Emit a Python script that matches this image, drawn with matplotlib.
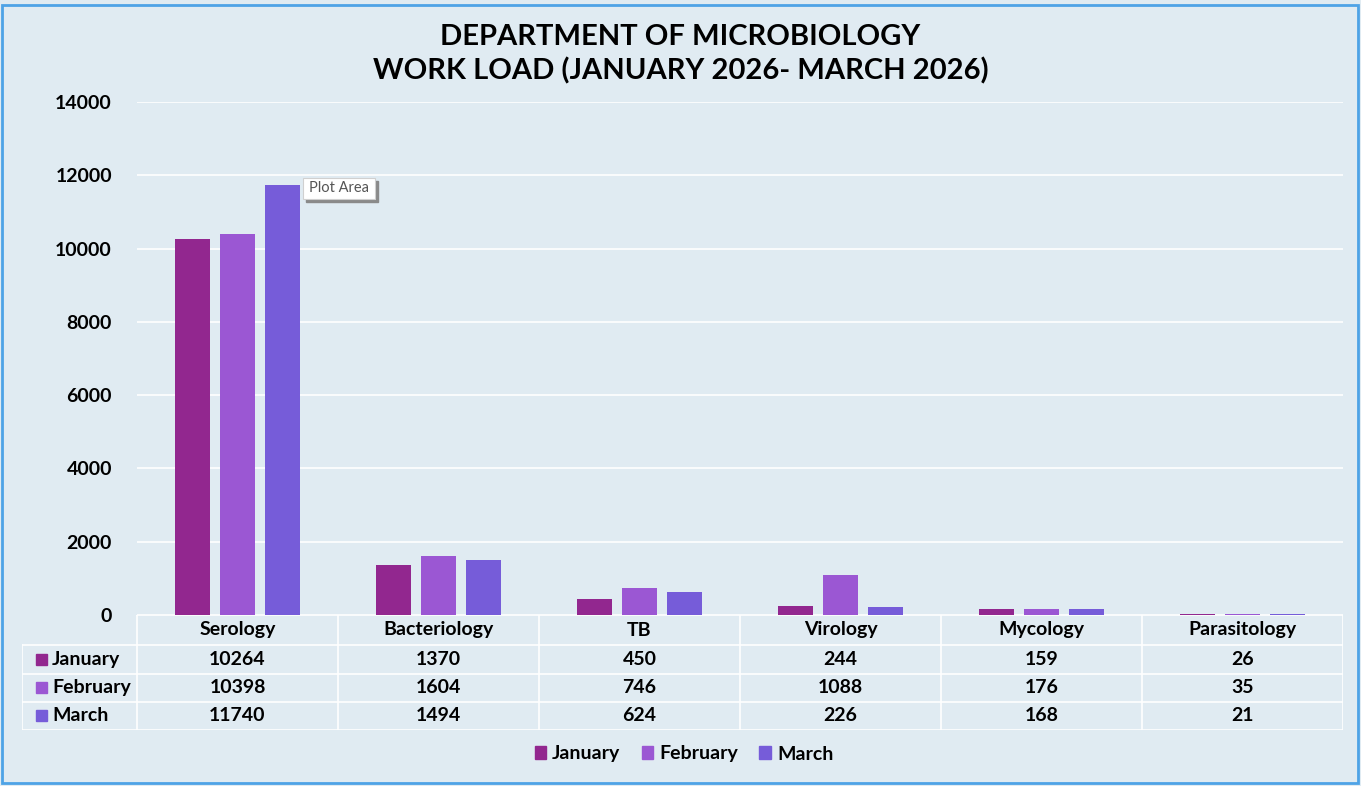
import matplotlib.pyplot as plt
import numpy as np
from matplotlib.patches import Rectangle

plt.rcParams['font.family'] = ['Lato', 'DejaVu Sans']

categories = ['Serology', 'Bacteriology', 'TB', 'Virology', 'Mycology', 'Parasitology']
months = ['January', 'February', 'March']
january = [10264, 1370, 450, 244, 159, 26]
february = [10398, 1604, 746, 1088, 176, 35]
march = [11740, 1494, 624, 226, 168, 21]
series = [january, february, march]
colors = ['#92278f', '#9b57d3', '#765cd9']

bg = '#e0ebf2'
W, H = 1361, 786
fig = plt.figure(figsize=(W / 100, H / 100), dpi=100, facecolor=bg)

# outer border
fig.patches.append(Rectangle((2 / W, 3 / H), 1356 / W, 778 / H, transform=fig.transFigure,
                             fill=False, edgecolor='#4ea3e6', linewidth=2))

def fx(px):
    return px / W

def fy(px):
    return 1 - px / H

left, right, top, bottom = 137, 1343, 102, 615
ax = fig.add_axes([fx(left), fy(bottom), fx(right - left), fy(top) - fy(bottom)])
ax.set_facecolor(bg)

x = np.arange(len(categories))
offsets = [-0.224, 0, 0.224]
for vals, off, c, m in zip(series, offsets, colors, months):
    ax.bar(x + off, vals, width=0.178, color=c, label=m, zorder=3)

ax.set_xlim(-0.5, 5.5)
ax.set_ylim(0, 14000)
ax.set_yticks(range(0, 14001, 2000))
ax.set_yticklabels([str(v) for v in range(0, 14001, 2000)], fontsize=14, fontweight='bold')
ax.set_xticks([])
ax.grid(axis='y', color='white', linewidth=1.2, zorder=0)
for s in ax.spines.values():
    s.set_visible(False)
ax.tick_params(axis='y', length=0, pad=18)

fig.text(0.5, fy(37), 'DEPARTMENT OF MICROBIOLOGY', ha='center', va='center',
         fontsize=21, fontweight='bold')
fig.text(0.5, fy(71), 'WORK LOAD (JANUARY 2026- MARCH 2026)', ha='center', va='center',
         fontsize=21, fontweight='bold')

# data table
tleft, tbot = 22, 730
tax = fig.add_axes([fx(tleft), fy(tbot), fx(right - tleft), fy(bottom) - fy(tbot)])
cat_px = (right - left) / len(categories)
x0 = -0.5 - (left - tleft) / cat_px
tax.set_xlim(x0, 5.5)
row_edges = [0, 30, 58.5, 86.5, 115]
tax.set_ylim(115, 0)
tax.axis('off')
lc = 'white'
lw = 1.2
# horizontal lines
tax.plot([-0.5, 5.5], [0, 0], color=lc, lw=lw)
for yv in row_edges[1:]:
    tax.plot([x0, 5.5], [yv, yv], color=lc, lw=lw)
# vertical lines
tax.plot([x0, x0], [30, 115], color=lc, lw=lw)
for xv in np.arange(-0.5, 6.0, 1.0):
    tax.plot([xv, xv], [0, 115], color=lc, lw=lw)

for i, cat in enumerate(categories):
    tax.text(i, 15, cat, ha='center', va='center', fontsize=14, fontweight='bold')
for r, (vals, c, m) in enumerate(zip(series, colors, months)):
    yc = (row_edges[r + 1] + row_edges[r + 2]) / 2
    tax.add_patch(Rectangle((x0 + 0.07, yc - 5.5), 0.055, 11, color=c))
    tax.text(x0 + 0.15, yc, m, ha='left', va='center', fontsize=14, fontweight='bold')
    for i, v in enumerate(vals):
        tax.text(i, yc, str(v), ha='center', va='center', fontsize=14, fontweight='bold')

# legend
handles = [Rectangle((0, 0), 1, 1, color=c) for c in colors]
fig.legend(handles, months, loc='center', bbox_to_anchor=(fx(684), fy(754)), ncol=3,
           frameon=False, prop={'size': 14, 'weight': 'bold'}, handlelength=0.6,
           handleheight=0.6, handletextpad=0.3, columnspacing=1.1)

# tooltip
fig.patches.append(Rectangle((fx(306), fy(202)), fx(72), 21 / H, transform=fig.transFigure,
                             color='#8a8a8a', zorder=5))
fig.patches.append(Rectangle((fx(303), fy(199)), fx(72), 21 / H, transform=fig.transFigure,
                             facecolor='white', edgecolor='#d0d0d0', lw=0.8, zorder=6))
fig.text(fx(339), fy(188.5), 'Plot Area', ha='center', va='center', fontsize=10.5,
         color='#555555', zorder=7)

fig.savefig('out.png', dpi=100, facecolor=bg)
